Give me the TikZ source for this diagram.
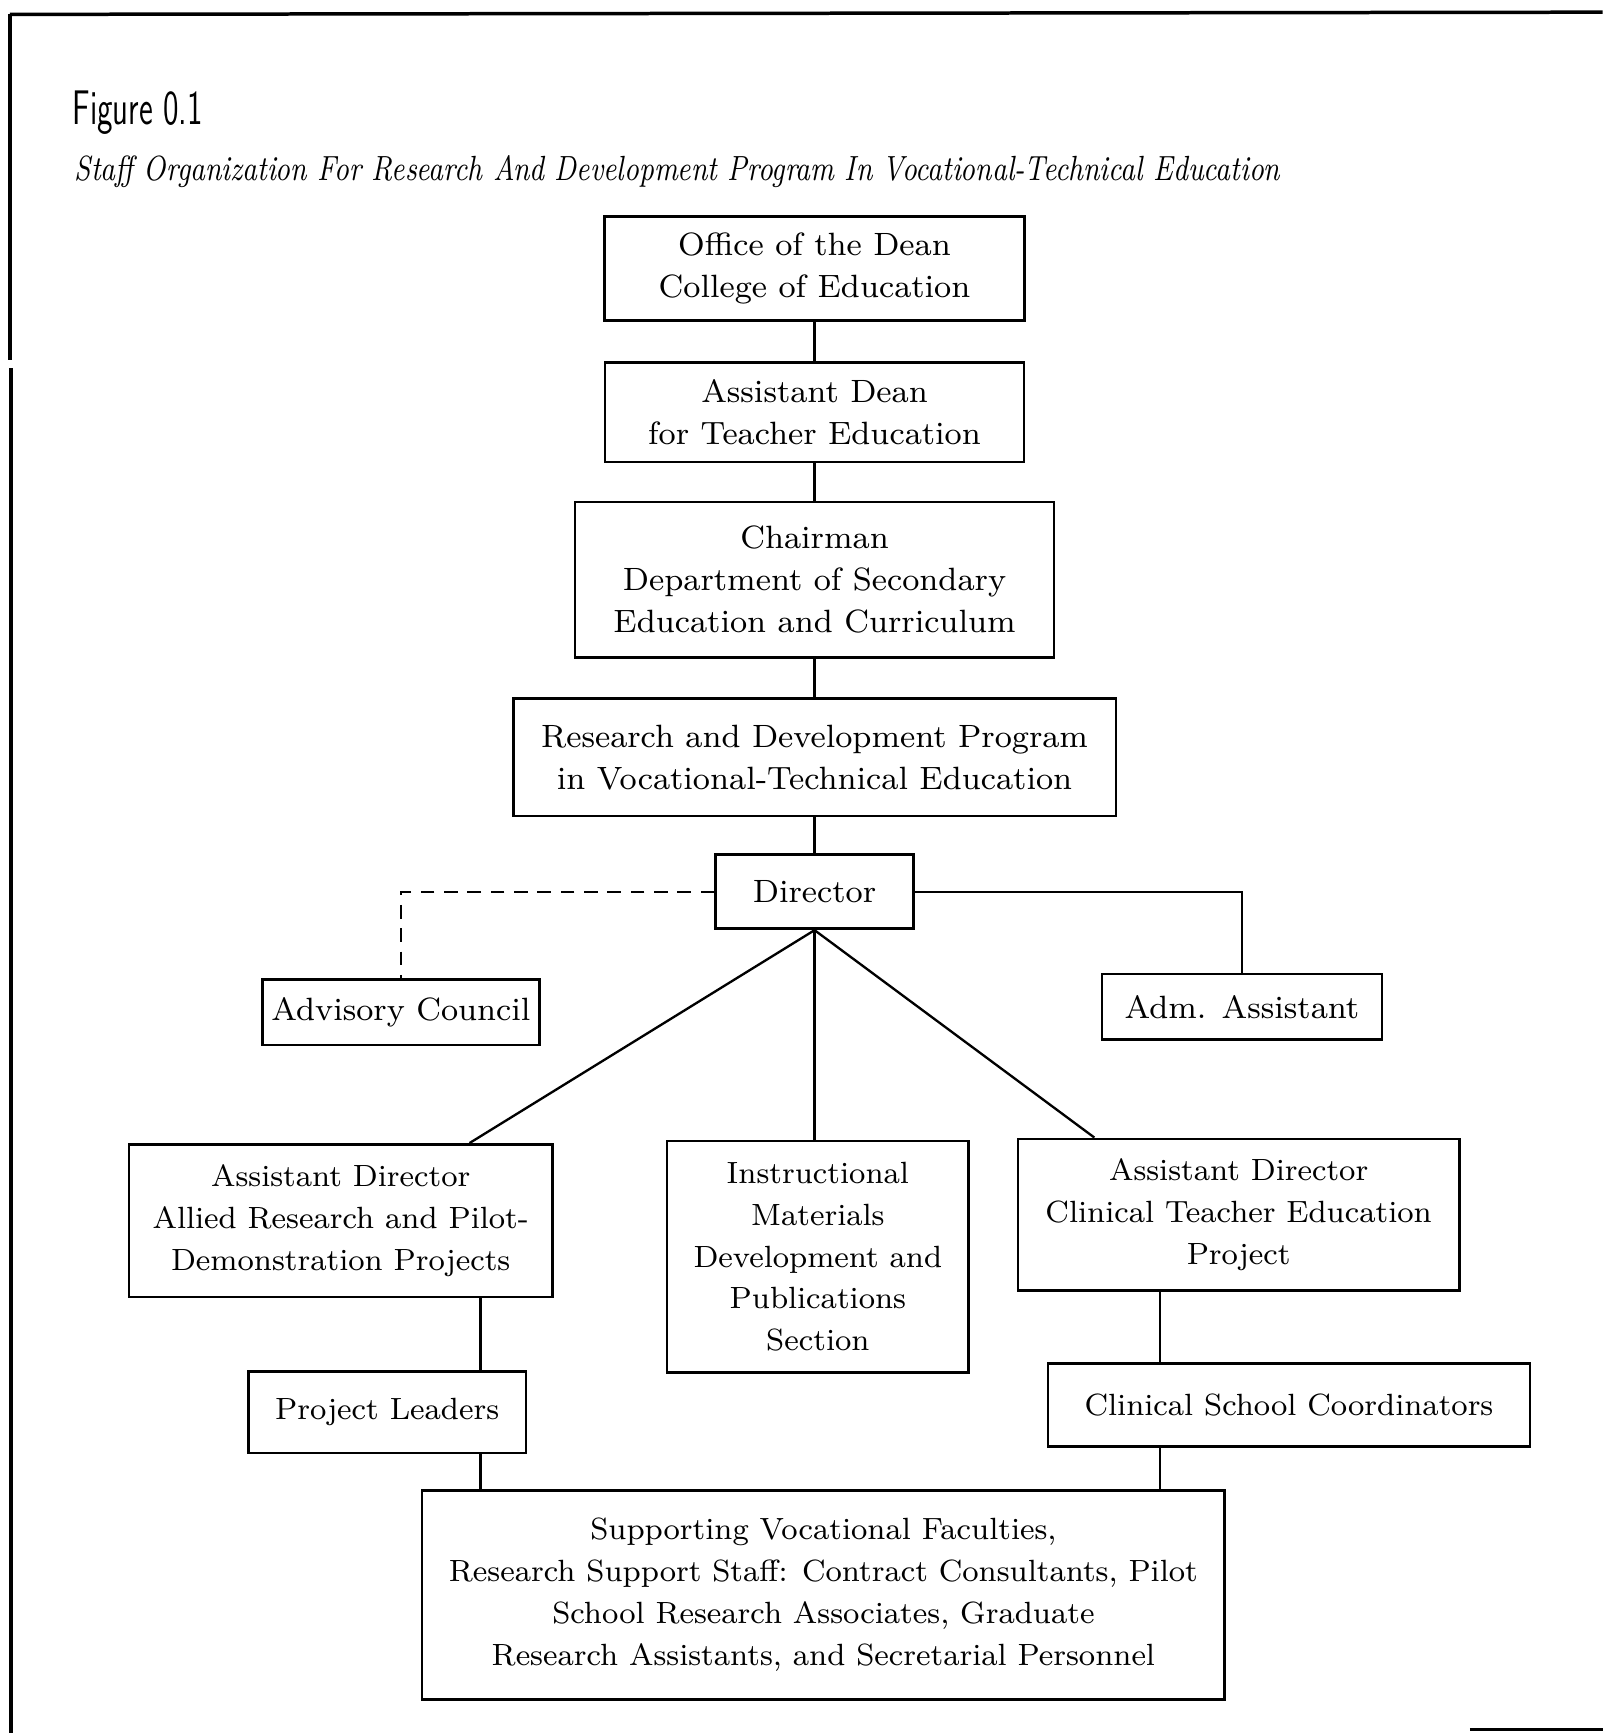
\documentclass[tikz,border=0pt]{standalone}
\usepackage{tikz}
\usetikzlibrary{calc}
\usetikzlibrary{shapes,arrows}
\tikzstyle{ubox} = [rectangle, draw, line width=0.7pt, align=center, inner sep=2pt, font=\fontsize{8.3}{10.8}\selectfont]
\tikzstyle{lbox} = [rectangle, draw, line width=0.7pt, align=center, inner sep=2pt, font=\fontsize{7.9}{10.8}\selectfont]
\tikzstyle{line} = [draw, line width=0.6pt]
\tikzstyle{dline} = [draw, line width=0.6pt, dash pattern=on 3.5pt off 2.5pt]
\tikzstyle{frame} = [draw, line width=0.9pt]

\begin{document}
\begin{tikzpicture}[x=0.01cm, y=-0.01cm, node distance=1.3cm]
    \useasboundingbox (0,0) rectangle (1450,1568);
    % page frame
    \draw [frame] (9,13) -- (1450,11);
    \draw [frame] (9,13) -- (9,326);
    \draw [frame] (10,333) -- (10,1568);
    \draw [frame] (1330,1565) -- (1450,1565);
    % headings
    \node [anchor=west, inner sep=0pt] (fig) at (65,102) {\scalebox{0.65}[1]{\fontsize{12.5}{14}\selectfont\sffamily Figure 0.1}};
    \node [anchor=west, inner sep=0pt] (caption) at (67,155) {\scalebox{0.81}[1]{\fontsize{9}{11}\selectfont\itshape Staff Organization For Research And Development Program In Vocational-Technical Education}};
    % main chain
    \node [ubox, minimum width=3.8cm, minimum height=0.94cm] (dean) at (737,243) {Office of the Dean\\College of Education};
    \node [ubox, below of=dean, minimum width=3.79cm, minimum height=0.9cm] (asstdean) {Assistant Dean\\for Teacher Education};
    \node [ubox, below of=asstdean, node distance=1.515cm, minimum width=4.33cm, minimum height=1.41cm] (chair) {Chairman\\Department of Secondary\\Education and Curriculum};
    \node [ubox, below of=chair, node distance=1.605cm, minimum width=5.45cm, minimum height=1.06cm] (rdprog) {Research and Development Program\\in Vocational-Technical Education};
    \node [ubox, below of=rdprog, node distance=1.215cm, minimum width=1.79cm, minimum height=0.67cm] (director) {Director};
    % staff beside the director
    \node [ubox, below of=director, node distance=1.09cm, xshift=-3.74cm, minimum width=2.5cm, minimum height=0.59cm] (advisory) {Advisory Council};
    \node [ubox, below of=director, node distance=1.04cm, xshift=3.865cm, minimum width=2.53cm, minimum height=0.59cm] (admasst) {Adm. Assistant};
    % sections
    \node [lbox, below of=director, node distance=2.975cm, xshift=-4.285cm, minimum width=3.83cm, minimum height=1.38cm] (allied) {Assistant Director\\Allied Research and Pilot-\\Demonstration Projects};
    \node [lbox, below of=director, node distance=3.3cm, xshift=0.03cm, minimum width=2.73cm, minimum height=2.09cm] (instr) {Instructional\\Materials\\Development and\\Publications\\Section};
    \node [lbox, below of=director, node distance=2.92cm, xshift=3.835cm, minimum width=3.99cm, minimum height=1.37cm] (clinical) {Assistant Director\\Clinical Teacher Education\\Project};
    \node [lbox, below of=allied, node distance=1.73cm, xshift=0.42cm, minimum width=2.51cm, minimum height=0.74cm] (leaders) {Project Leaders};
    \node [lbox, below of=clinical, node distance=1.72cm, xshift=0.455cm, minimum width=4.36cm, minimum height=0.75cm] (coord) {Clinical School Coordinators};
    \node [lbox, below of=instr, node distance=3.06cm, xshift=0.05cm, minimum width=7.26cm, minimum height=1.89cm] (support) {Supporting Vocational Faculties,\\Research Support Staff: Contract Consultants, Pilot\\School Research Associates, Graduate\\Research Assistants, and Secretarial Personnel};
    \coordinate (pl) at ([xshift=0.845cm]leaders.north);
    \coordinate (cc) at ([xshift=-1.165cm]coord.north);
    % connectors
    \path [line] (dean) -- (asstdean);
    \path [line] (asstdean) -- (chair);
    \path [line] (chair) -- (rdprog);
    \path [line] (rdprog) -- (director);
    \path [dline] (director.west) -| (advisory.north);
    \path [line] (director.east) -| (admasst.north);
    \path [line] (director.south) -- ([xshift=1.165cm]allied.north);
    \path [line] (director.south) -- (director.south |- instr.north);
    \path [line] (director.south) -- ([xshift=-1.305cm]clinical.north);
    \path [line] (pl |- allied.south) -- (pl);
    \path [line] (pl |- leaders.south) -- (pl |- support.north);
    \path [line] (cc |- clinical.south) -- (cc);
    \path [line] (cc |- coord.south) -- (cc |- support.north);
\end{tikzpicture}
\end{document}
